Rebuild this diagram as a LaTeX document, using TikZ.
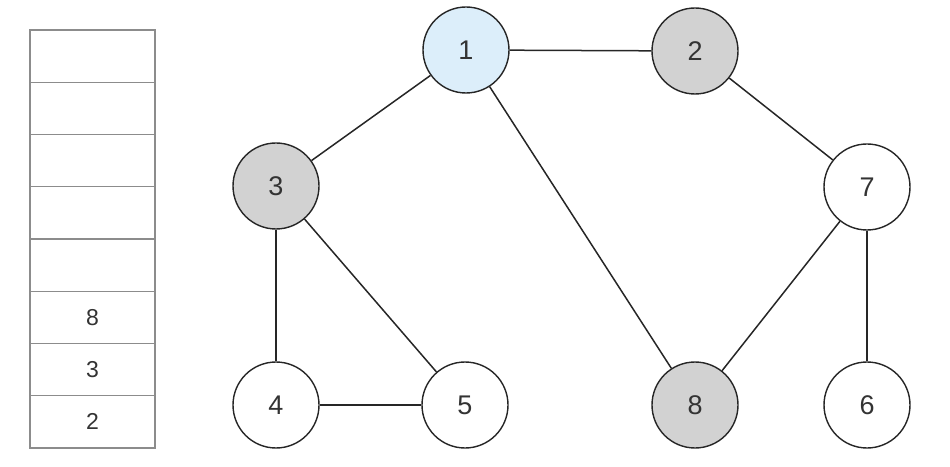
\documentclass[tikz,border=0pt]{standalone}
\usepackage{fontspec}
\setmainfont{Liberation Sans}
\begin{document}
\begin{tikzpicture}[x=1pt,y=1pt,
  vert/.style={circle,draw=black!85,line width=1.4pt,minimum size=86pt,inner sep=0pt,font=\fontsize{27}{27}\selectfont,text=black!80},
  visited/.style={vert,fill=gray!35!white},
  current/.style={vert,fill={rgb,255:red,220;green,238;blue,250}},
  edge/.style={draw=black!85,line width=1.5pt},
  cell/.style={draw=black!45,line width=1.1pt,minimum width=125pt,minimum height=52.25pt,inner sep=0pt,font=\fontsize{23}{23}\selectfont,text=black!80}]
\useasboundingbox (0,0) rectangle (950,466);
% stack
\foreach \i/\t in {0/2,1/3,2/8,3/{},4/{},5/{},6/{},7/{}} {
  \node[cell] (s\i) at (92.5,{466-448+26.125+52.25*\i}) {\t};
}
% graph
\node[current] (n1) at (466,416) {1};
\node[visited] (n2) at (695,415) {2};
\node[visited] (n3) at (276,280) {3};
\node[vert] (n7) at (867,279) {7};
\node[vert] (n4) at (276,61) {4};
\node[vert] (n5) at (465,61) {5};
\node[visited] (n8) at (695,61) {8};
\node[vert] (n6) at (867,61) {6};
\draw[edge] (n1) -- (n2);
\draw[edge] (n1) -- (n3);
\draw[edge] (n1) -- (n8);
\draw[edge] (n2) -- (n7);
\draw[edge] (n3) -- (n4);
\draw[edge] (n3) -- (n5);
\draw[edge] (n4) -- (n5);
\draw[edge] (n7) -- (n8);
\draw[edge] (n7) -- (n6);
\end{tikzpicture}
\end{document}
